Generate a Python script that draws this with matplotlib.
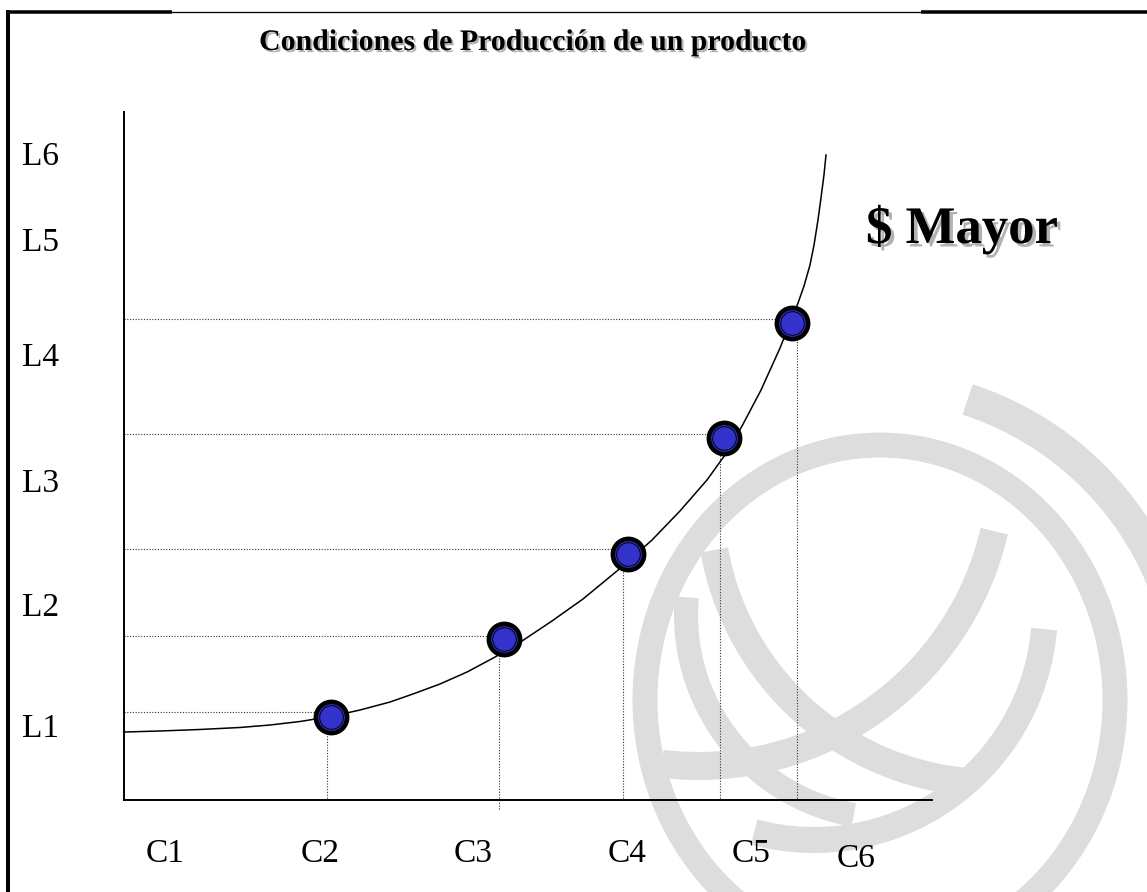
import matplotlib
matplotlib.use('Agg')
import matplotlib.pyplot as plt
import matplotlib.patheffects as pe
from matplotlib.patches import Arc

plt.rcParams['font.family'] = ['Liberation Serif', 'DejaVu Serif']

title = 'Condiciones de Producción de un producto'
note = '$ Mayor'

# axis runs 0-100 in both directions
c_labels = ['C1', 'C2', 'C3', 'C4', 'C5', 'C6']
c_pos = [5.1, 24.3, 43.2, 62.3, 77.6, 90.6]
c_base = [-9.0, -9.0, -9.0, -9.0, -9.0, -9.7]
l_labels = ['L1', 'L2', 'L3', 'L4', 'L5', 'L6']
l_pos = [9.2, 26.7, 44.8, 63.1, 79.8, 92.3]

# cost curve
curve_x = [0.0, 4.46, 9.41, 14.36, 18.07, 21.78, 25.62, 29.21, 32.92, 35.77, 39.11, 42.45,
           45.92, 49.26, 52.97, 56.81, 61.01, 65.35, 68.81, 72.15, 74.38, 76.49, 78.84,
           81.19, 82.43, 83.42, 84.16, 84.90, 85.40, 85.89, 86.26, 86.63, 86.88]
curve_y = [9.88, 10.03, 10.25, 10.54, 10.90, 11.41, 12.14, 13.08, 14.24, 15.41, 16.86, 18.60,
           20.78, 23.11, 26.02, 29.22, 33.28, 37.79, 42.01, 46.51, 50.15, 54.36, 59.59,
           65.70, 69.33, 72.24, 74.71, 77.76, 80.67, 84.30, 87.50, 90.84, 93.75]

points_x = [25.6, 47.0, 62.4, 74.3, 82.7]
points_y = [12.1, 23.4, 35.8, 52.6, 69.3]
guide_x = [25.1, 46.4, 61.8, 73.8, 83.3]
guide_y = [12.8, 23.8, 36.5, 53.2, 69.9]
guide_bottom = [0.3, -1.3, 0.3, 0.3, 0.3]

fig = plt.figure(figsize=(11.47, 8.92), dpi=100)

# background layer in pixel units: frame + watermark
bg = fig.add_axes([0, 0, 1, 1], zorder=0)
bg.set_xlim(0, 1147)
bg.set_ylim(892, 0)
bg.axis('off')

wm = '#dddddd'
px = 0.72
arcs = [((880, 700), 470, 510, 0, 360, 25),
        ((870, 700), 632, 632, -72, 15, 32),
        ((699, 463), 606, 606, 13, 97, 28),
        ((814, 609), 462, 462, 5, 105, 26),
        ((992, 501), 564, 564, 95, 170, 28),
        ((889, 615), 406, 406, 100, 185, 24)]
for c, w, h, t1, t2, lw in arcs:
    bg.add_patch(Arc(c, w, h, theta1=t1, theta2=t2, lw=lw * px, color=wm, capstyle='butt'))

bg.plot([8, 8], [10, 892], color='black', lw=4 * px, solid_capstyle='butt')
bg.plot([6, 172], [11.5, 11.5], color='black', lw=3.5 * px, solid_capstyle='butt')
bg.plot([172, 921], [12.3, 12.3], color='black', lw=1.3 * px)
bg.plot([921, 1147], [11.5, 11.5], color='black', lw=3.5 * px, solid_capstyle='butt')

bg.text(533, 50, title, ha='center', va='baseline', fontsize=21.5, fontweight='bold',
        path_effects=[pe.withSimplePatchShadow(offset=(1.5, -1.5), shadow_rgbFace='0.5', alpha=0.6)])
bg.text(866, 243, note, ha='left', va='baseline', fontsize=38, fontweight='bold', parse_math=False,
        path_effects=[pe.withSimplePatchShadow(offset=(2.5, -2.5), shadow_rgbFace='0.5', alpha=0.6)])

ax = fig.add_axes([124 / 1147, 92 / 892, 808 / 1147, 688 / 892], zorder=2)
ax.set_facecolor('none')
ax.set_xlim(0, 100)
ax.set_ylim(0, 100)
for s in ['top', 'right']:
    ax.spines[s].set_visible(False)
for s in ['left', 'bottom']:
    ax.spines[s].set_linewidth(1.4)
ax.set_xticks([])
ax.set_yticks([])

dot = (0, (1, 1.5))
ax.hlines(guide_y, 0, points_x, colors='#333333', lw=0.8, linestyles=dot)
ax.vlines(guide_x, guide_bottom, points_y, colors='#333333', lw=0.8, linestyles=dot, clip_on=False)

ax.plot(curve_x, curve_y, color='black', lw=1.1, clip_on=False)

ax.plot(points_x, points_y, 'o', ms=22.5, mfc='#3333cc', mec='black', mew=3.3, zorder=5, clip_on=False)
ax.plot(points_x, points_y, 'o', ms=17, mfc='none', mec='black', mew=0.7, zorder=6, clip_on=False)

for lab, x, y in zip(c_labels, c_pos, c_base):
    ax.text(x, y, lab, ha='center', va='baseline', fontsize=24, clip_on=False)
for lab, y in zip(l_labels, l_pos):
    ax.text(-12.6, y, lab, ha='left', va='baseline', fontsize=24, clip_on=False)

fig.savefig('out.png', dpi=100)
